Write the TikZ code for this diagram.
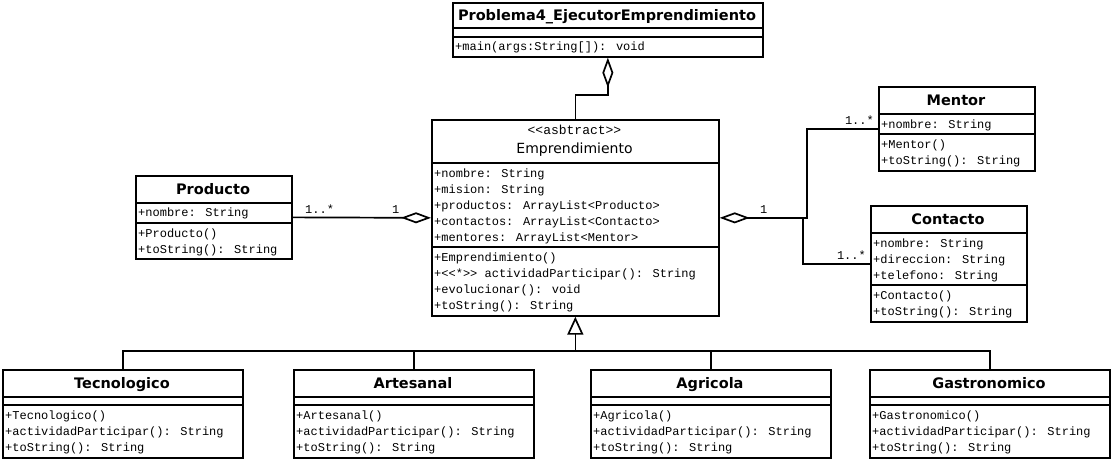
\documentclass[tikz,border=0pt]{standalone}
\usepackage{fontspec}
\usetikzlibrary{arrows.meta,calc}
\newfontfamily\monofont{Liberation Mono}
\newfontfamily\titlefnt{DejaVu Sans}
\tikzset{
  box/.style={draw, line width=1.7pt, inner sep=0pt, fill=white},
  boxline/.style={line width=1.7pt},
  mono/.style={font=\monofont\fontsize{12}{12}\selectfont, anchor=west, inner sep=0pt, text height=8.5pt, text depth=2.5pt},
  ttl/.style={font=\titlefnt\bfseries\fontsize{14.5}{14.5}\selectfont, inner sep=0pt, text height=11.5pt, text depth=1pt},
  conn/.style={line width=1.7pt},
  agg/.tip={Diamond[open,length=30pt,width=11pt]},
  inh/.tip={Triangle[open,length=18pt,width=16pt]},
  mult/.style={font=\monofont\fontsize{12}{12}\selectfont, inner sep=0pt},
}
\newcommand\classbox[7]{%
  \node[box, minimum width=#4pt, minimum height=#5pt, anchor=north west] (#1) at (#2,#3) {};
  \draw[boxline] (#2,#6) -- ++(#4,0);
  \draw[boxline] (#2,#7) -- ++(#4,0);
}
\begin{document}
\begin{tikzpicture}[x=1pt,y=-1pt]
\useasboundingbox[fill=white] (0,0) rectangle (1112,459);

% Problema4
\classbox{prob}{452}{2}{310}{54}{28}{37}
\node[ttl] (probT) at (607,15) {Problema4\_EjecutorEmprendimiento};
\node[mono] (probM1) at (455,47) {+main(args:String[]): void};

% Emprendimiento
\classbox{emp}{431}{119}{287}{196}{163}{247}
\node[font=\monofont\fontsize{13}{13}\selectfont, inner sep=0pt, text height=9pt, text depth=2.5pt] (empS) at (574.5,131) {<<asbtract>>};
\node[font=\titlefnt\fontsize{14}{14}\selectfont, inner sep=0pt, text height=10.5pt, text depth=3pt] (empT) at (574.5,150) {Emprendimiento};
\node[mono] (empA1) at (434,174) {+nombre: String};
\node[mono] (empA2) at (434,190) {+mision: String};
\node[mono] (empA3) at (434,206) {+productos: ArrayList<Producto>};
\node[mono] (empA4) at (434,222) {+contactos: ArrayList<Contacto>};
\node[mono] (empA5) at (434,238) {+mentores: ArrayList<Mentor>};
\node[mono] (empM1) at (434,258) {+Emprendimiento()};
\node[mono] (empM2) at (434,274) {+<<*>> actividadParticipar(): String};
\node[mono] (empM3) at (434,290) {+evolucionar(): void};
\node[mono] (empM4) at (434,306) {+toString(): String};

% Producto
\classbox{prod}{135}{175}{156}{83}{203}{223}
\node[ttl] (prodT) at (213,189) {Producto};
\node[mono] (prodA1) at (138,213) {+nombre: String};
\node[mono] (prodM1) at (138,234) {+Producto()};
\node[mono] (prodM2) at (138,250) {+toString(): String};

% Mentor
\classbox{ment}{878}{86}{156}{84}{114}{134}
\node[ttl] (mentT) at (956,100) {Mentor};
\node[mono] (mentA1) at (881,125) {+nombre: String};
\node[mono] (mentM1) at (881,145) {+Mentor()};
\node[mono] (mentM2) at (881,161) {+toString(): String};

% Contacto
\classbox{cont}{870}{205}{156}{116}{233}{285}
\node[ttl] (contT) at (948,219) {Contacto};
\node[mono] (contA1) at (873,244) {+nombre: String};
\node[mono] (contA2) at (873,260) {+direccion: String};
\node[mono] (contA3) at (873,276) {+telefono: String};
\node[mono] (contM1) at (873,296) {+Contacto()};
\node[mono] (contM2) at (873,312) {+toString(): String};

% Subclasses
\classbox{tec}{2}{369}{240}{88}{397}{405}
\node[ttl] (tecT) at (122,383) {Tecnologico};
\node[mono] (tecM1) at (5,416) {+Tecnologico()};
\node[mono] (tecM2) at (5,432) {+actividadParticipar(): String};
\node[mono] (tecM3) at (5,448) {+toString(): String};

\classbox{art}{293}{369}{240}{88}{397}{405}
\node[ttl] (artT) at (413,383) {Artesanal};
\node[mono] (artM1) at (296,416) {+Artesanal()};
\node[mono] (artM2) at (296,432) {+actividadParticipar(): String};
\node[mono] (artM3) at (296,448) {+toString(): String};

\classbox{agr}{590}{369}{240}{88}{397}{405}
\node[ttl] (agrT) at (710,383) {Agricola};
\node[mono] (agrM1) at (593,416) {+Agricola()};
\node[mono] (agrM2) at (593,432) {+actividadParticipar(): String};
\node[mono] (agrM3) at (593,448) {+toString(): String};

\classbox{gas}{869}{369}{240}{88}{397}{405}
\node[ttl] (gasT) at (989,383) {Gastronomico};
\node[mono] (gasM1) at (872,416) {+Gastronomico()};
\node[mono] (gasM2) at (872,432) {+actividadParticipar(): String};
\node[mono] (gasM3) at (872,448) {+toString(): String};

% Connectors
\draw[conn, -{agg}] (emp.north) -- ++(0,-24) -| (prob.south);
\draw[conn, -{agg}] (prod.east) -- (emp.west);
\node[mult, anchor=south west] (m1) at (305,214) {1..*};
\node[mult, anchor=south west] (m2) at (392,214) {1};
\draw[conn, {agg}-] (emp.east) -- ++(87,0) |- (ment.west);
\draw[conn] ($(emp.east)+(83,0)$) |- (cont.west);
\node[mult, anchor=south west] (m3) at (760,214) {1};
\node[mult, anchor=south east] (m4) at (874,125) {1..*};
\node[mult, anchor=south east] (m5) at (866,260) {1..*};

% Inheritance
\coordinate (bar) at ($(emp.south)+(0,34)$);
\draw[conn, -{inh}] (bar) -- (emp.south);
\draw[conn] (tec.north) |- (bar) -| (gas.north);
\draw[conn] (art.north) -- (art.north |- bar);
\draw[conn] (agr.north) -- (agr.north |- bar);
\end{tikzpicture}
\end{document}
